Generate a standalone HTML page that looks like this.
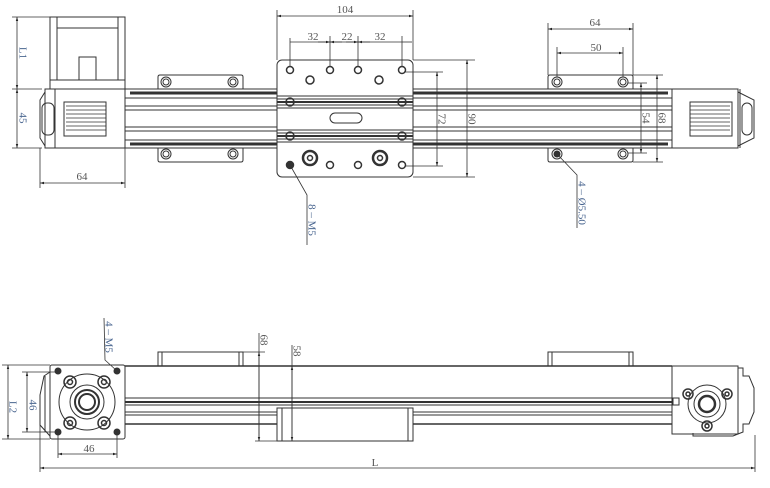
<!DOCTYPE html>
<html><head><meta charset="utf-8"><style>
html,body{margin:0;padding:0;background:#fff;}
svg{display:block}
text{font-family:"Liberation Serif",serif;font-size:11px;fill:#555;}
.b{fill:#4a6690;}
</style></head><body>
<svg width="770" height="488" viewBox="0 0 770 488" xmlns="http://www.w3.org/2000/svg">
<defs>
<marker id="a" viewBox="0 0 10 10" refX="10" refY="5" markerWidth="8" markerHeight="5" orient="auto-start-reverse"><path d="M0,2 L10,5 L0,8z" fill="#222"/></marker>
</defs>
<g fill="none" stroke="#333" stroke-width="1">
<!-- ===== TOP VIEW ===== -->
<!-- motor -->
<rect x="50" y="17" width="75" height="72"/>
<line x1="57" y1="17" x2="57" y2="80"/><line x1="118" y1="17" x2="118" y2="80"/>
<line x1="57" y1="28" x2="118" y2="28"/><line x1="50" y1="80" x2="125" y2="80"/>
<rect x="79" y="57" width="17" height="23"/>
<!-- left housing -->
<rect x="45" y="89" width="80" height="59"/>
<path d="M45,92 L40,100 L40,138 L45,146"/>
<rect x="42" y="103" width="12" height="32" rx="5"/>
<line x1="55" y1="89" x2="55" y2="148"/>
<rect x="64" y="102" width="42" height="34"/>
<g stroke-width="0.8"><line x1="66" y1="106" x2="106" y2="106"/><line x1="66" y1="110" x2="106" y2="110"/><line x1="66" y1="114" x2="106" y2="114"/><line x1="66" y1="118" x2="106" y2="118"/><line x1="66" y1="122" x2="106" y2="122"/><line x1="66" y1="126" x2="106" y2="126"/><line x1="66" y1="130" x2="106" y2="130"/></g>
<!-- right housing -->
<rect x="672" y="89" width="66" height="59"/>
<path d="M738,92 L754,100 L754,138 L738,146"/>
<rect x="742" y="103" width="10" height="32" rx="5"/>
<line x1="740" y1="89" x2="740" y2="148"/>
<rect x="690" y="102" width="42" height="34"/>
<g stroke-width="0.8"><line x1="690" y1="106" x2="730" y2="106"/><line x1="690" y1="110" x2="730" y2="110"/><line x1="690" y1="114" x2="730" y2="114"/><line x1="690" y1="118" x2="730" y2="118"/><line x1="690" y1="122" x2="730" y2="122"/><line x1="690" y1="126" x2="730" y2="126"/><line x1="690" y1="130" x2="730" y2="130"/></g>
<!-- rail -->
<line x1="125" y1="89" x2="672" y2="89"/>
<line x1="130" y1="93" x2="668" y2="93" stroke-width="3"/>
<line x1="125" y1="98" x2="672" y2="98"/>
<line x1="125" y1="106" x2="672" y2="106"/>
<line x1="125" y1="110" x2="672" y2="110"/>
<line x1="125" y1="127" x2="672" y2="127"/>
<line x1="125" y1="131" x2="672" y2="131"/>
<line x1="125" y1="140" x2="672" y2="140"/>
<line x1="130" y1="144" x2="668" y2="144" stroke-width="3"/>
<line x1="125" y1="148" x2="672" y2="148"/>
<!-- brackets top view -->
<path d="M158,89 V77 Q158,75 160,75 H241 Q243,75 243,77 V89"/>
<path d="M158,148 V160 Q158,162 160,162 H241 Q243,162 243,160 V148"/>
<path d="M548,89 V77 Q548,75 550,75 H631 Q633,75 633,77 V89"/>
<path d="M548,148 V160 Q548,162 550,162 H631 Q633,162 633,160 V148"/>
<g>
<circle cx="166" cy="82" r="5"/><circle cx="166" cy="82" r="3"/>
<circle cx="233" cy="82" r="5"/><circle cx="233" cy="82" r="3"/>
<circle cx="166" cy="154" r="5"/><circle cx="166" cy="154" r="3"/>
<circle cx="233" cy="154" r="5"/><circle cx="233" cy="154" r="3"/>
<circle cx="557" cy="82" r="5"/><circle cx="557" cy="82" r="3"/>
<circle cx="623" cy="82" r="5"/><circle cx="623" cy="82" r="3"/>
<circle cx="557" cy="154" r="5"/><circle cx="557" cy="154" r="3" fill="#333"/>
<circle cx="623" cy="154" r="5"/><circle cx="623" cy="154" r="3"/>
</g>
<!-- carriage plate -->
<rect x="277" y="60" width="136" height="117" rx="5" fill="#fff"/>
<rect x="277" y="96" width="136" height="12" fill="#fff"/>
<line x1="277" y1="99" x2="413" y2="99"/><line x1="277" y1="102" x2="413" y2="102" stroke-width="2"/><line x1="277" y1="105" x2="413" y2="105"/>
<rect x="277" y="130" width="136" height="12" fill="#fff"/>
<line x1="277" y1="133" x2="413" y2="133"/><line x1="277" y1="136" x2="413" y2="136" stroke-width="2"/><line x1="277" y1="139" x2="413" y2="139"/>
<rect x="330" y="113" width="32" height="10" rx="5"/>
<g stroke-width="1.5">
<circle cx="290" cy="102" r="4"/><circle cx="402" cy="102" r="4"/><circle cx="290" cy="136" r="4"/><circle cx="402" cy="136" r="4"/>
<circle cx="290" cy="70" r="3.5"/><circle cx="330" cy="70" r="3.5"/><circle cx="358" cy="70" r="3.5"/><circle cx="402" cy="70" r="3.5"/>
<circle cx="310" cy="80" r="4"/><circle cx="379" cy="80" r="4"/>
<circle cx="290" cy="165" r="3.5" fill="#333"/><circle cx="330" cy="165" r="3.5"/><circle cx="358" cy="165" r="3.5"/><circle cx="402" cy="165" r="3.5"/>
<circle cx="310" cy="158" r="7" stroke-width="2.5"/><circle cx="310" cy="158" r="2.5"/>
<circle cx="380" cy="158" r="7" stroke-width="2.5"/><circle cx="380" cy="158" r="2.5"/>
</g>
<!-- dims top -->
<g stroke-width="0.8">
<line x1="12" y1="17" x2="50" y2="17"/><line x1="12" y1="89" x2="42" y2="89"/><line x1="12" y1="148" x2="42" y2="148"/>
<line x1="17" y1="17" x2="17" y2="89" marker-start="url(#a)" marker-end="url(#a)"/>
<line x1="17" y1="89" x2="17" y2="148" marker-start="url(#a)" marker-end="url(#a)"/>
<line x1="40" y1="148" x2="40" y2="188"/><line x1="125" y1="148" x2="125" y2="188"/>
<line x1="40" y1="183" x2="125" y2="183" marker-start="url(#a)" marker-end="url(#a)"/>
<line x1="277" y1="10" x2="277" y2="60"/><line x1="413" y1="10" x2="413" y2="60"/>
<line x1="277" y1="16" x2="413" y2="16" marker-start="url(#a)" marker-end="url(#a)"/>
<line x1="290" y1="38" x2="290" y2="66"/><line x1="330" y1="36" x2="330" y2="66"/><line x1="358" y1="36" x2="358" y2="66"/><line x1="402" y1="36" x2="402" y2="66"/>
<line x1="290" y1="42" x2="402" y2="42"/>
<line x1="318" y1="42" x2="330" y2="42" marker-end="url(#a)"/><line x1="342" y1="42" x2="330" y2="42" marker-end="url(#a)"/>
<line x1="346" y1="42" x2="358" y2="42" marker-end="url(#a)"/><line x1="370" y1="42" x2="358" y2="42" marker-end="url(#a)"/>
<line x1="402" y1="42" x2="412" y2="42"/>
<line x1="413" y1="60" x2="475" y2="60"/><line x1="413" y1="177" x2="475" y2="177"/>
<line x1="405" y1="72" x2="443" y2="72"/><line x1="405" y1="166" x2="443" y2="166"/>
<line x1="437" y1="72" x2="437" y2="166" marker-start="url(#a)" marker-end="url(#a)"/>
<line x1="467" y1="60" x2="467" y2="177" marker-start="url(#a)" marker-end="url(#a)"/>
<line x1="548" y1="23" x2="548" y2="75"/><line x1="633" y1="23" x2="633" y2="75"/>
<line x1="548" y1="29" x2="633" y2="29" marker-start="url(#a)" marker-end="url(#a)"/>
<line x1="557" y1="47" x2="557" y2="77"/><line x1="623" y1="47" x2="623" y2="77"/>
<line x1="557" y1="53" x2="623" y2="53" marker-start="url(#a)" marker-end="url(#a)"/>
<line x1="633" y1="75" x2="663" y2="75"/><line x1="633" y1="162" x2="663" y2="162"/>
<line x1="628" y1="83" x2="647" y2="83"/><line x1="628" y1="153" x2="647" y2="153"/>
<line x1="641" y1="83" x2="641" y2="153" marker-start="url(#a)" marker-end="url(#a)"/>
<line x1="657" y1="75" x2="657" y2="162" marker-start="url(#a)" marker-end="url(#a)"/>
<polyline points="557,154 577,175 577,228"/>
<polyline points="290,165 307,195 307,245"/>
</g>
<!-- ===== BOTTOM VIEW ===== -->
<rect x="158" y="352" width="85" height="14"/><line x1="162" y1="352" x2="162" y2="366"/><line x1="239" y1="352" x2="239" y2="366"/>
<rect x="548" y="352" width="85" height="14"/><line x1="552" y1="352" x2="552" y2="366"/><line x1="629" y1="352" x2="629" y2="366"/>
<line x1="125" y1="366" x2="672" y2="366" stroke-width="1.5"/>
<line x1="125" y1="398" x2="672" y2="398"/>
<line x1="125" y1="402" x2="672" y2="402" stroke-width="2"/>
<line x1="125" y1="405" x2="672" y2="405"/>
<line x1="125" y1="412" x2="672" y2="412"/>
<line x1="125" y1="415" x2="672" y2="415"/>
<line x1="125" y1="424" x2="672" y2="424" stroke-width="1.5"/>
<rect x="277" y="408" width="136" height="33" fill="#fff"/>
<line x1="282" y1="408" x2="282" y2="441"/><line x1="408" y1="408" x2="408" y2="441"/>
<!-- left end plate -->
<rect x="50" y="365" width="75" height="74" rx="2" fill="#fff"/>
<path d="M50,372 L44,376 L40,395 L40,425 L50,436"/>
<line x1="45" y1="376" x2="45" y2="432"/>
<circle cx="87" cy="402" r="28"/>
<circle cx="87" cy="402" r="17"/><circle cx="87" cy="402" r="12" stroke-width="2"/><circle cx="87" cy="402" r="8" stroke-width="2"/>
<g stroke-width="1.5">
<circle cx="70" cy="382" r="6"/><circle cx="70" cy="382" r="2.5"/>
<circle cx="104" cy="382" r="6"/><circle cx="104" cy="382" r="2.5"/>
<circle cx="70" cy="423" r="6"/><circle cx="70" cy="423" r="2.5"/>
<circle cx="104" cy="423" r="6"/><circle cx="104" cy="423" r="2.5"/>
</g>
<circle cx="58" cy="371" r="3" fill="#333"/><circle cx="117" cy="371" r="3" fill="#333"/>
<circle cx="58" cy="432" r="3" fill="#333"/><circle cx="117" cy="432" r="3" fill="#333"/>
<!-- right end plate -->
<rect x="672" y="366" width="66" height="68" fill="#fff"/>
<path d="M738,368 h5 v8 h6 l5,12 v24 l-5,12 h-6 v8 l-10,4 h-40 v-3"/>
<circle cx="707" cy="404" r="19"/><circle cx="707" cy="404" r="13"/><circle cx="707" cy="404" r="8" stroke-width="2.5"/>
<g stroke-width="1.5">
<circle cx="688" cy="394" r="5"/><circle cx="688" cy="394" r="2"/>
<circle cx="727" cy="394" r="5"/><circle cx="727" cy="394" r="2"/>
<circle cx="707" cy="426" r="5"/><circle cx="707" cy="426" r="2"/>
</g>
<rect x="673" y="398" width="6" height="7"/>
<!-- dims bottom -->
<g stroke-width="0.8">
<line x1="2" y1="365" x2="50" y2="365"/><line x1="2" y1="439" x2="50" y2="439"/>
<line x1="8" y1="365" x2="8" y2="439" marker-start="url(#a)" marker-end="url(#a)"/>
<line x1="22" y1="372" x2="58" y2="372"/><line x1="22" y1="432" x2="58" y2="432"/>
<line x1="27" y1="372" x2="27" y2="432" marker-start="url(#a)" marker-end="url(#a)"/>
<line x1="58" y1="432" x2="58" y2="458"/><line x1="117" y1="432" x2="117" y2="458"/>
<line x1="58" y1="454" x2="117" y2="454" marker-start="url(#a)" marker-end="url(#a)"/>
<line x1="40" y1="425" x2="40" y2="472"/><line x1="755" y1="435" x2="755" y2="472"/>
<line x1="40" y1="468" x2="755" y2="468" marker-start="url(#a)" marker-end="url(#a)"/>
<line x1="243" y1="352" x2="265" y2="352"/>
<line x1="259" y1="333" x2="259" y2="441"/>
<line x1="259" y1="352" x2="259" y2="441" marker-start="url(#a)" marker-end="url(#a)"/>
<line x1="255" y1="441" x2="413" y2="441"/>
<line x1="292" y1="345" x2="292" y2="441"/>
<line x1="292" y1="366" x2="292" y2="441" marker-start="url(#a)" marker-end="url(#a)"/>
<polyline points="117,371 105,360 104,318"/>
</g>
</g>
<!-- labels -->
<text x="22" y="53" class="b" transform="rotate(90 22 53)" text-anchor="middle" dominant-baseline="middle">L1</text>
<text x="22" y="118" class="b" transform="rotate(90 22 118)" text-anchor="middle" dominant-baseline="middle">45</text>
<text x="82" y="180" text-anchor="middle" font-size="13">64</text>
<text x="345" y="13" text-anchor="middle">104</text>
<text x="313" y="40" text-anchor="middle">32</text>
<text x="347" y="40" text-anchor="middle">22</text>
<text x="380" y="40" text-anchor="middle">32</text>
<text x="441" y="119" transform="rotate(90 441 119)" text-anchor="middle" dominant-baseline="middle">72</text>
<text x="471" y="119" transform="rotate(90 471 119)" text-anchor="middle" dominant-baseline="middle">90</text>
<text x="595" y="26" text-anchor="middle">64</text>
<text x="596" y="51" text-anchor="middle">50</text>
<text x="645" y="118" transform="rotate(90 645 118)" text-anchor="middle" dominant-baseline="middle">54</text>
<text x="661" y="118" transform="rotate(90 661 118)" text-anchor="middle" dominant-baseline="middle">68</text>
<text x="581" y="203" transform="rotate(90 581 203)" text-anchor="middle" dominant-baseline="middle" font-size="10" class="b">4 – Ø5.50</text>
<text x="311" y="220" transform="rotate(90 311 220)" text-anchor="middle" dominant-baseline="middle" font-size="10" class="b">8 – M5</text>
<text x="108" y="337" transform="rotate(90 108 337)" text-anchor="middle" dominant-baseline="middle" font-size="10" class="b">4 – M5</text>
<text x="263" y="340" transform="rotate(90 263 340)" text-anchor="middle" dominant-baseline="middle" font-size="10">68</text>
<text x="296" y="351" transform="rotate(90 296 351)" text-anchor="middle" dominant-baseline="middle" font-size="10">58</text>
<text x="12" y="407" class="b" transform="rotate(90 12 407)" text-anchor="middle" dominant-baseline="middle">L2</text>
<text x="32" y="405" class="b" transform="rotate(90 32 405)" text-anchor="middle" dominant-baseline="middle">46</text>
<text x="89" y="452" text-anchor="middle">46</text>
<text x="375" y="466" text-anchor="middle" font-size="10">L</text>
</svg>
</body></html>
